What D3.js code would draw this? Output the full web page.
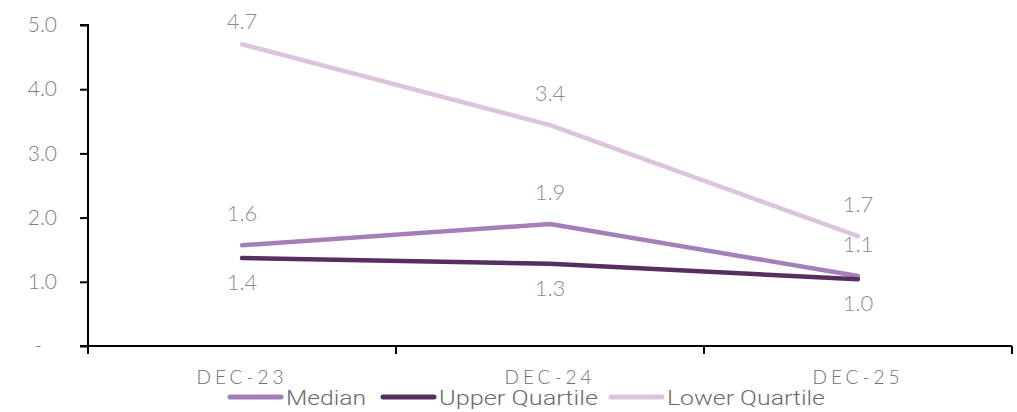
<!DOCTYPE html>
<html><head><meta charset="utf-8">
<script src="https://cdn.jsdelivr.net/npm/d3@7"></script>
<style>
body{margin:0;background:#fff;}
svg{display:block;}
</style></head>
<body><svg id="c" width="1017" height="412"></svg>
<script>
const categories = ["DEC-23","DEC-24","DEC-25"];
const median = [1.57, 1.90, 1.09];
const upperQuartile = [1.37, 1.28, 1.04];
const lowerQuartile = [4.70, 3.44, 1.71];
const yTicks = [0,1,2,3,4,5];
const seriesNames = ["Median","Upper Quartile","Lower Quartile"];

const series = [
  {name:seriesNames[0], values:median, color:"#a57fba", pos:"above"},
  {name:seriesNames[1], values:upperQuartile, color:"#55305f", pos:"below"},
  {name:seriesNames[2], values:lowerQuartile, color:"#dcc4dd", pos:"above"}
];

const svg = d3.select("#c");
const L=88, R=1012, T=25, B=346;
const x = d3.scaleBand().domain(categories).range([L,R]).padding(0);
const y = d3.scaleLinear().domain([0,5]).range([B,T]);
const FONT = "'Lato','Open Sans',sans-serif";

// y axis
const ya = svg.append("g").attr("transform",`translate(${L},0)`)
  .call(d3.axisLeft(y).tickValues(yTicks).tickSize(8).tickPadding(23)
    .tickFormat(d=> d===0 ? "-" : d3.format(".1f")(d)));
ya.select(".domain").attr("d",`M-8,${T}H0V${B+8}`).attr("stroke","#000").attr("stroke-width",2);
ya.selectAll(".tick line").attr("stroke","#000").attr("stroke-width",2);
ya.selectAll(".tick text").attr("fill","#808080").style("font-family",FONT).style("font-size","21px").style("font-weight",300);
ya.selectAll(".tick").filter(d=>d===0).select("text").attr("dx",-15);

// x axis
const xa = svg.append("g");
xa.append("line").attr("x1",L-8).attr("x2",R).attr("y1",B).attr("y2",B).attr("stroke","#000").attr("stroke-width",2);
const bounds = categories.map(c=>x(c)).concat([x(categories[categories.length-1])+x.bandwidth()]);
xa.selectAll("line.t").data(bounds).join("line").attr("class","t")
  .attr("x1",d=>d).attr("x2",d=>d).attr("y1",B).attr("y2",B+8).attr("stroke","#000").attr("stroke-width",2);
xa.selectAll("text").data(categories).join("text")
  .attr("x",d=>x(d)+x.bandwidth()/2).attr("y",384)
  .attr("text-anchor","middle").attr("fill","#707070")
  .style("font-family",FONT).style("font-size","19px").style("font-weight",300).style("letter-spacing","4px")
  .text(d=>d);

// lines
const line = d3.line().x((d,i)=>x(categories[i])+x.bandwidth()/2).y(d=>y(d));
const draw = [series[2], series[0], series[1]];
svg.selectAll("path.s").data(draw).join("path").attr("class","s")
  .attr("d",d=>line(d.values)).attr("fill","none").attr("stroke",d=>d.color)
  .attr("stroke-width",4.5).attr("stroke-linecap","round").attr("stroke-linejoin","round");

// data labels
series.forEach(s=>{
  svg.selectAll(null).data(s.values).join("text")
    .attr("x",(d,i)=>x(categories[i])+x.bandwidth()/2)
    .attr("y",d=> s.pos==="above" ? Math.max(T+4, y(d)-24) : y(d)+32)
    .attr("text-anchor","middle").attr("fill","#8c8c8c")
    .style("font-family",FONT).style("font-size","22px").style("font-weight",300)
    .text(d=>d3.format(".1f")(d));
});

// legend
const leg = svg.append("g");
const items = [
  {s:series[0], x0:228, tw:80},
  {s:series[1], x0:381, tw:159},
  {s:series[2], x0:609, tw:158}
];
items.forEach(it=>{
  leg.append("line").attr("x1",it.x0+2).attr("x2",it.x0+53).attr("y1",397).attr("y2",397)
    .attr("stroke",it.s.color).attr("stroke-width",5).attr("stroke-linecap","round");
  leg.append("text").attr("x",it.x0+58).attr("y",405)
    .attr("textLength",it.tw).attr("lengthAdjust","spacingAndGlyphs")
    .attr("fill","#6b6b6b")
    .style("font-family","Roboto,sans-serif").style("font-size","21px").style("font-weight",300)
    .text(it.s.name);
});
</script></body></html>
